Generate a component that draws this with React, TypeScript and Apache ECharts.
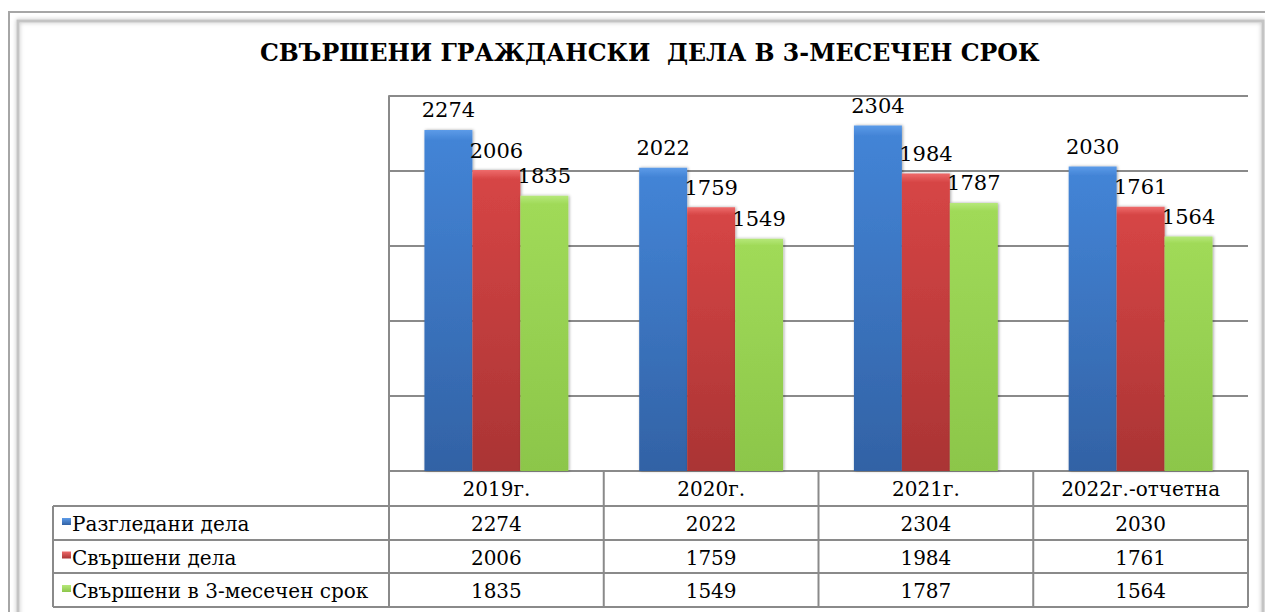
import React, { useEffect, useRef } from "react";
import * as echarts from "echarts";

const TITLE = "СВЪРШЕНИ ГРАЖДАНСКИ  ДЕЛА В 3-МЕСЕЧЕН СРОК";
const categories = ["2019г.", "2020г.", "2021г.", "2022г.-отчетна"];
const seriesNames = ["Разгледани дела", "Свършени дела", "Свършени в 3-месечен срок"];
const reviewed = [2274, 2022, 2304, 2030];
const finished = [2006, 1759, 1984, 1761];
const finished3m = [1835, 1549, 1787, 1564];
const yMin = 0;
const yMax = 2500;
const yInterval = 500;

const W = 1265;
const H = 612;
const FONT = "DejaVu Serif";

function barColor(light: string, mid: string, dark: string) {
  return new echarts.graphic.LinearGradient(0, 0, 0, 1, [
    { offset: 0, color: light },
    { offset: 0.03, color: mid },
    { offset: 1, color: dark },
  ]);
}

const palette = [
  { light: "#5c9be8", mid: "#4384d6", dark: "#3262a5" },
  { light: "#ee6b6b", mid: "#d64545", dark: "#aa3434" },
  { light: "#b6e87a", mid: "#a0da58", dark: "#8cc64a" },
];

export default function App() {
  const ref = useRef<HTMLDivElement>(null);
  useEffect(() => {
    if (!ref.current) return;
    const chart = echarts.init(ref.current, null, { renderer: "svg" });

    const plotLeft = 389;
    const plotRight = 1248;
    const plotTop = 96;
    const plotBottom = 471;
    const tableLeft = 53;
    const rowLines = [plotBottom, 506, 540, 573, 607];
    const colW = (plotRight - plotLeft) / categories.length;
    const lineColor = "#8a8a8a";
    const values = [reviewed, finished, finished3m];

    const graphics: any[] = [];
    graphics.push({
      type: "rect",
      shape: { x: 9, y: 12, width: W + 20, height: H + 20 },
      style: { fill: "none", stroke: "#a6a6a6", lineWidth: 2 },
      silent: true,
    });
    graphics.push({
      type: "rect",
      shape: { x: 18, y: 21, width: 1245, height: H + 20 },
      style: {
        fill: "none",
        stroke: "#c4c4c4",
        lineWidth: 3,
        shadowBlur: 4,
        shadowColor: "rgba(0,0,0,0.25)",
      },
      silent: true,
    });
    for (let i = 1; i < rowLines.length; i++) {
      graphics.push({
        type: "line",
        shape: { x1: tableLeft, y1: rowLines[i], x2: plotRight, y2: rowLines[i] },
        style: { stroke: lineColor, lineWidth: 2 },
        silent: true,
      });
    }
    graphics.push({
      type: "line",
      shape: { x1: tableLeft, y1: rowLines[1], x2: tableLeft, y2: rowLines[4] },
      style: { stroke: lineColor, lineWidth: 2 },
      silent: true,
    });
    for (let c = 0; c <= categories.length; c++) {
      const x = plotLeft + c * colW;
      graphics.push({
        type: "line",
        shape: { x1: x, y1: plotBottom, x2: x, y2: rowLines[4] },
        style: { stroke: lineColor, lineWidth: 2 },
        silent: true,
      });
    }
    seriesNames.forEach((name, r) => {
      const cy = (rowLines[r + 1] + rowLines[r + 2]) / 2;
      const p = palette[r];
      graphics.push({
        type: "rect",
        shape: { x: 62, y: cy - 5, width: 9, height: 7 },
        style: {
          fill: new echarts.graphic.LinearGradient(0, 0, 0, 1, [
            { offset: 0, color: p.light },
            { offset: 1, color: p.dark },
          ]),
        },
        silent: true,
      });
      graphics.push({
        type: "text",
        x: 72,
        y: cy + 1,
        style: {
          text: name,
          fontFamily: FONT,
          fontSize: 20,
          fill: "#000",
          verticalAlign: "middle",
          align: "left",
        },
        silent: true,
      });
      values[r].forEach((v, c) => {
        graphics.push({
          type: "text",
          x: plotLeft + (c + 0.5) * colW,
          y: cy + 1,
          style: {
            text: String(v),
            fontFamily: FONT,
            fontSize: 20,
            fill: "#000",
            verticalAlign: "middle",
            align: "center",
          },
          silent: true,
        });
      });
    });

    const option: any = {
      animation: false,
      backgroundColor: "#fff",
      title: {
        text: TITLE,
        left: 255,
        top: 36,
        textStyle: {
          fontFamily: FONT,
          fontWeight: "bold",
          fontSize: 23.7,
          color: "#000",
        },
      },
      grid: {
        left: plotLeft,
        right: W - plotRight,
        top: plotTop,
        bottom: H - plotBottom,
        containLabel: false,
      },
      xAxis: {
        type: "category",
        data: categories,
        axisLine: { show: true, lineStyle: { color: lineColor, width: 2 } },
        axisTick: { show: false },
        axisLabel: {
          fontFamily: FONT,
          fontSize: 20,
          color: "#000",
          margin: 8,
        },
      },
      yAxis: {
        type: "value",
        min: yMin,
        max: yMax,
        interval: yInterval,
        axisLine: { show: true, lineStyle: { color: lineColor, width: 2 } },
        axisTick: { show: false },
        axisLabel: { show: false },
        splitLine: { show: true, lineStyle: { color: lineColor, width: 2 } },
      },
      series: seriesNames.map((name, i) => ({
        name,
        type: "bar",
        data: values[i],
        barGap: "0%",
        barCategoryGap: "33%",
        itemStyle: {
          color: barColor(palette[i].light, palette[i].mid, palette[i].dark),
          shadowBlur: 3,
          shadowColor: "rgba(0,0,0,0.35)",
          shadowOffsetX: 1,
        },
        label: {
          show: true,
          position: "top",
          distance: 9,
          fontFamily: FONT,
          fontSize: 21,
          color: "#000",
        },
      })),
      graphic: graphics,
    };
    chart.setOption(option);
    return () => chart.dispose();
  }, []);
  return (
    <div
      ref={ref}
      style={{ position: "fixed", left: 0, top: 0, width: W, height: H }}
    />
  );
}
